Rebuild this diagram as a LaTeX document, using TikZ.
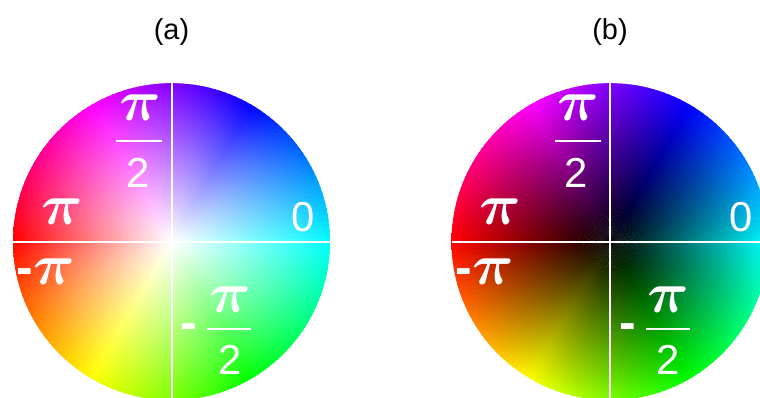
\RequirePackage{fix-cm}
\documentclass[tikz,border=0pt]{standalone}
\usepackage{fontspec}
\setmainfont{Liberation Sans}
\usetikzlibrary{positioning}
\tikzset{
  axisline/.style={white,line width=2bp},
  barline/.style={white,line width=2.5bp},
  lbl/.style={white,inner sep=0pt,font=\fontsize{42}{42}\selectfont},
  ttl/.style={black,inner sep=0pt,font=\fontsize{29}{29}\selectfont},
}
\newcommand{\pisym}{{\fontsize{58}{58}\selectfont\boldmath$\pi$}}
\newcommand{\minussym}{{\fontsize{50}{50}\selectfont\bfseries -}}

\begin{document}
\begin{tikzpicture}[x=1bp,y=1bp]
  \useasboundingbox (0,0) rectangle (760,397);
  \clip (0,0) rectangle (760,397);
  \foreach \cx/\core/\wid in {171.5/white/a,610/black/b}{
    \begin{scope}[shift={(\cx,155.3)}]
      % hue wheel, one thin wedge at a time
      \foreach \t in {0,2,...,358}{
        \pgfmathsetmacro\h{mod(\t+181,360)}
        \definecolor{huecol}{Hsb}{\h,1,1}
        \begin{scope}
          \clip (0,0) -- (\t-0.4:170) arc[start angle=\t-0.4,end angle=\t+2.4,radius=170] -- cycle;
          \shade[inner color=\core,outer color=huecol] (0,0) circle (158.5);
        \end{scope}
      }
      \draw[axisline] (-158.5,0) -- (158.5,0);
      \draw[axisline] (0,-158.5) -- (0,158.5);
      \node[ttl] (title-\wid) at (0,209.7) {(\wid)};
      % labels
      \node[lbl] (\wid-hpn) at (-31.5,133.7) {\pisym};
      \draw[barline] (-55.5,100.7) -- (-9.5,100.7);
      \node[lbl] (\wid-hpd) at (-33.5,68.7) {2};
      \node[lbl] (\wid-pp) at (-109.5,29.7) {\pisym};
      \node[lbl] (\wid-z) at (131.5,24.7) {0};
      \node[lbl] (\wid-pm) at (-125.5,-30.3) {\minussym\pisym};
      \node[lbl] (\wid-mm) at (17.5,-90.3) {\minussym};
      \node[lbl] (\wid-mpn) at (58.5,-58.3) {\pisym};
      \draw[barline] (35.5,-87.3) -- (79.5,-87.3);
      \node[lbl] (\wid-mpd) at (58.5,-118.3) {2};
    \end{scope}
  }
\end{tikzpicture}
\end{document}
